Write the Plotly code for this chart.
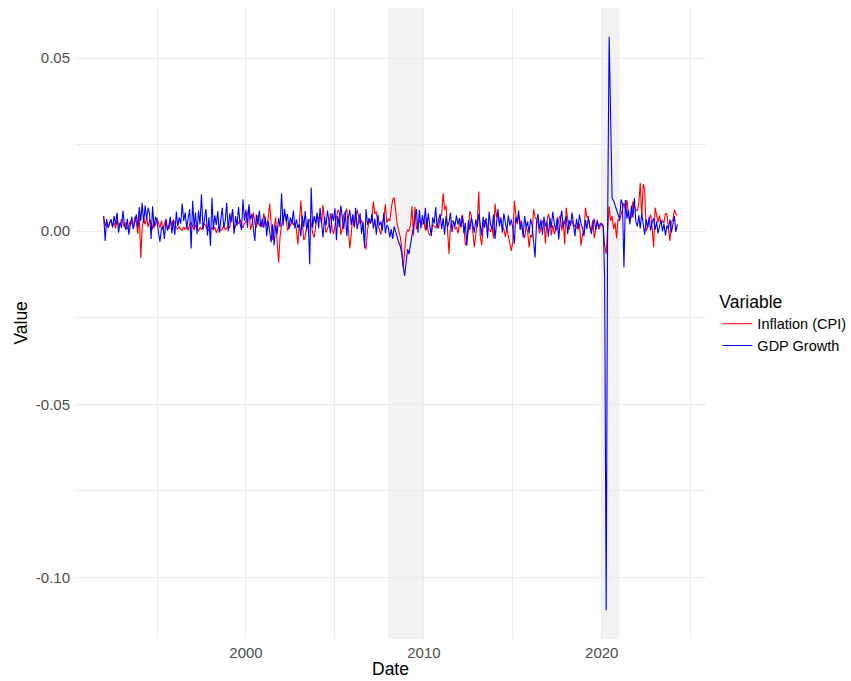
import pandas as pd
import plotly.graph_objects as go

# ---------------- data (monthly, Jan 1992 - Apr 2024) ----------------
start_month = "1992-01-01"

inflation_cpi = [
    0.0042, 0.0015, 0.0028, 0.0010, 0.0022, 0.0030, 0.0016, 0.0024, 0.0008, 0.0032, 0.0018, 0.0020,  # 1992
    0.0035, 0.0020, 0.0012, 0.0026, 0.0006, 0.0015, 0.0030, 0.0022, 0.0010, 0.0042, 0.0026, -0.0008,  # 1993
    0.0048, -0.0078, 0.0010, 0.0035, 0.0020, 0.0040, 0.0012, 0.0034, 0.0026, 0.0005, 0.0028, 0.0016,  # 1994
    0.0038, 0.0024, 0.0010, 0.0030, 0.0004, 0.0020, 0.0036, 0.0012, 0.0006, 0.0028, 0.0018, 0.0034,  # 1995
    0.0022, 0.0010, 0.0006, 0.0014, 0.0005, 0.0003, 0.0012, 0.0004, 0.0016, 0.0002, 0.0020, 0.0026,  # 1996
    0.0015, 0.0003, 0.0018, 0.0008, 0.0000, 0.0012, 0.0006, 0.0010, 0.0022, 0.0014, 0.0005, 0.0002,  # 1997
    0.0008, 0.0010, 0.0004, 0.0012, -0.0005, 0.0006, 0.0016, 0.0002, 0.0005, 0.0018, 0.0004, 0.0009,  # 1998
    0.0015, 0.0010, 0.0030, 0.0058, 0.0002, 0.0015, 0.0028, 0.0022, 0.0034, 0.0018, 0.0010, 0.0024,  # 1999
    0.0026, 0.0050, 0.0070, 0.0004, 0.0018, 0.0055, 0.0024, 0.0010, 0.0046, 0.0016, 0.0020, 0.0012,  # 2000
    0.0052, 0.0030, 0.0014, 0.0038, 0.0080, 0.0020, -0.0025, 0.0006, 0.0040, -0.0030, -0.0090, -0.0015,  # 2001
    0.0020, 0.0035, 0.0050, 0.0048, 0.0002, 0.0010, 0.0016, 0.0030, 0.0018, 0.0026, 0.0005, -0.0038,  # 2002
    0.0040, 0.0088, 0.0026, -0.0025, -0.0016, 0.0012, 0.0018, 0.0034, 0.0025, -0.0006, -0.0018, 0.0016,  # 2003
    0.0045, 0.0036, 0.0044, 0.0022, 0.0076, 0.0030, -0.0004, 0.0008, 0.0020, 0.0052, 0.0010, -0.0008,  # 2004
    0.0018, 0.0046, 0.0062, 0.0054, -0.0010, 0.0006, 0.0048, 0.0052, 0.0065, 0.0010, -0.0050, -0.0010,  # 2005
    0.0048, 0.0010, 0.0042, 0.0062, 0.0045, 0.0020, 0.0032, 0.0018, -0.0038, -0.0052, 0.0004, 0.0030,  # 2006
    0.0022, 0.0040, 0.0086, 0.0050, 0.0056, 0.0018, 0.0006, -0.0010, 0.0026, 0.0032, 0.0078, 0.0024,  # 2007
    0.0035, 0.0030, 0.0064, 0.0092, 0.0097, 0.0060, 0.0020, 0.0002, -0.0015, -0.0045, -0.0105, -0.0060,  # 2008
    -0.0006, 0.0004, 0.0000, 0.0018, 0.0072, -0.0012, 0.0070, 0.0006, 0.0020, 0.0030, 0.0030, 0.0020,  # 2009
    0.0030, 0.0002, 0.0040, -0.0004, -0.0010, -0.0012, 0.0020, 0.0015, 0.0010, 0.0022, 0.0008, 0.0042,  # 2010
    0.0048, 0.0110, 0.0062, 0.0074, -0.0010, -0.0066, 0.0018, 0.0030, 0.0028, 0.0006, 0.0012, -0.0006,  # 2011
    0.0022, 0.0030, 0.0048, 0.0016, -0.0040, -0.0028, 0.0000, 0.0058, 0.0046, -0.0008, -0.0046, -0.0010,  # 2012
    0.0026, 0.0115, -0.0010, -0.0040, 0.0010, 0.0032, 0.0020, 0.0014, 0.0006, -0.0002, 0.0016, -0.0020,  # 2013
    0.0080, 0.0040, 0.0056, 0.0028, 0.0032, 0.0014, 0.0006, -0.0016, 0.0008, -0.0016, -0.0030, -0.0057,  # 2014
    -0.0030, 0.0088, 0.0052, 0.0020, 0.0046, 0.0030, 0.0012, -0.0008, -0.0020, 0.0014, 0.0000, -0.0047,  # 2015
    -0.0010, -0.0018, 0.0064, 0.0042, 0.0030, 0.0024, -0.0006, 0.0010, 0.0028, 0.0032, -0.0035, 0.0028,  # 2016
    0.0050, 0.0032, -0.0012, 0.0018, -0.0008, 0.0004, 0.0006, 0.0034, 0.0046, 0.0002, 0.0030, -0.0038,  # 2017
    0.0068, 0.0036, 0.0004, 0.0026, 0.0030, 0.0014, 0.0018, 0.0010, 0.0006, 0.0022, -0.0042, -0.0010,  # 2018
    0.0000, 0.0068, 0.0040, 0.0044, 0.0010, 0.0004, 0.0032, -0.0020, 0.0016, 0.0034, 0.0005, 0.0016,  # 2019
    0.0024, 0.0010, -0.0040, -0.0066, -0.0010, 0.0073, 0.0030, 0.0044, 0.0006, 0.0025, -0.0020, 0.0035,  # 2020
    0.0030, 0.0050, 0.0070, 0.0082, 0.0064, 0.0090, 0.0048, 0.0028, 0.0042, 0.0086, 0.0074, 0.0060,  # 2021
    0.0060, 0.0080, 0.0140, 0.0040, 0.0136, 0.0120, 0.0000, 0.0010, 0.0036, 0.0048, 0.0010, -0.0046,  # 2022
    0.0068, 0.0048, 0.0025, 0.0046, 0.0022, 0.0030, 0.0024, 0.0052, 0.0048, 0.0010, -0.0028, 0.0028,  # 2023
    0.0032, 0.0062, 0.0050, 0.0046,  # 2024
]

gdp_growth = [
    0.0044, -0.0028, 0.0035, 0.0010, 0.0025, 0.0035, 0.0010, 0.0044, 0.0020, 0.0054, -0.0004, 0.0025,  # 1992
    0.0010, 0.0059, 0.0020, 0.0004, 0.0036, -0.0010, 0.0018, 0.0042, 0.0006, 0.0028, 0.0048, 0.0012,  # 1993
    0.0070, 0.0030, 0.0082, 0.0024, 0.0074, 0.0034, 0.0068, 0.0050, -0.0022, 0.0072, 0.0010, 0.0042,  # 1994
    0.0028, -0.0005, -0.0030, 0.0008, 0.0015, -0.0022, 0.0034, 0.0002, 0.0018, 0.0042, -0.0006, 0.0030,  # 1995
    -0.0010, 0.0056, 0.0014, 0.0040, 0.0022, 0.0080, 0.0030, 0.0054, 0.0008, 0.0038, 0.0064, -0.0050,  # 1996
    0.0088, 0.0010, 0.0054, -0.0008, 0.0060, 0.0020, 0.0107, 0.0004, 0.0032, 0.0064, -0.0012, 0.0040,  # 1997
    -0.0042, 0.0097, 0.0006, 0.0046, 0.0018, 0.0058, -0.0004, 0.0036, 0.0068, 0.0010, 0.0030, 0.0082,  # 1998
    0.0000, 0.0052, 0.0026, 0.0064, -0.0008, 0.0044, 0.0016, 0.0070, 0.0022, 0.0004, 0.0092, 0.0030,  # 1999
    0.0062, 0.0010, 0.0078, 0.0034, 0.0050, 0.0006, -0.0028, 0.0048, 0.0020, 0.0060, 0.0012, 0.0036,  # 2000
    0.0010, 0.0042, -0.0014, 0.0030, 0.0002, -0.0032, 0.0020, -0.0040, 0.0016, -0.0008, 0.0038, 0.0012,  # 2001
    0.0110, 0.0016, 0.0064, 0.0028, 0.0050, 0.0006, 0.0040, 0.0022, 0.0060, 0.0008, 0.0034, 0.0010,  # 2002
    0.0020, -0.0014, 0.0046, 0.0012, 0.0058, 0.0002, 0.0036, -0.0095, 0.0126, 0.0010, 0.0044, 0.0022,  # 2003
    0.0054, 0.0008, 0.0068, 0.0032, -0.0018, 0.0042, 0.0016, 0.0060, 0.0024, -0.0006, 0.0052, 0.0030,  # 2004
    0.0066, -0.0026, 0.0044, 0.0012, 0.0074, 0.0028, 0.0006, 0.0058, -0.0014, 0.0036, 0.0062, 0.0018,  # 2005
    0.0048, 0.0014, 0.0068, 0.0006, 0.0032, 0.0052, -0.0008, 0.0026, -0.0047, 0.0064, 0.0018, 0.0038,  # 2006
    0.0024, 0.0050, 0.0008, 0.0036, -0.0010, 0.0048, 0.0016, 0.0028, 0.0002, 0.0054, -0.0006, 0.0018,  # 2007
    0.0012, -0.0018, 0.0006, -0.0022, 0.0014, -0.0004, -0.0016, -0.0032, -0.0042, -0.0062, -0.0100, -0.0129,  # 2008
    -0.0090, -0.0052, -0.0066, -0.0033, -0.0012, 0.0010, 0.0035, 0.0064, -0.0004, 0.0062, 0.0008, 0.0046,  # 2009
    0.0020, 0.0068, 0.0004, 0.0052, 0.0016, -0.0012, 0.0040, 0.0022, 0.0070, 0.0008, 0.0036, 0.0050,  # 2010
    0.0006, 0.0038, -0.0010, 0.0044, 0.0012, 0.0026, 0.0054, -0.0002, 0.0030, 0.0014, 0.0046, 0.0020,  # 2011
    0.0038, 0.0010, 0.0044, -0.0006, 0.0024, -0.0042, 0.0032, 0.0004, 0.0040, 0.0018, -0.0004, 0.0034,  # 2012
    0.0012, 0.0050, 0.0026, -0.0012, 0.0042, 0.0010, 0.0038, -0.0020, 0.0056, 0.0020, 0.0004, 0.0048,  # 2013
    -0.0022, 0.0030, 0.0064, 0.0014, 0.0040, -0.0004, 0.0052, 0.0024, 0.0002, 0.0046, 0.0016, 0.0034,  # 2014
    0.0008, -0.0036, 0.0040, 0.0026, 0.0060, 0.0004, 0.0030, -0.0018, 0.0044, 0.0012, 0.0028, -0.0006,  # 2015
    0.0036, 0.0018, -0.0024, -0.0076, 0.0022, 0.0050, 0.0006, 0.0034, -0.0010, 0.0042, 0.0014, 0.0028,  # 2016
    -0.0016, 0.0038, 0.0010, 0.0056, 0.0024, 0.0000, 0.0040, -0.0024, 0.0030, 0.0060, 0.0012, 0.0026,  # 2017
    0.0044, -0.0008, 0.0032, 0.0016, 0.0054, 0.0020, -0.0014, 0.0036, 0.0008, 0.0048, 0.0022, 0.0010,  # 2018
    -0.0014, 0.0032, 0.0006, 0.0040, 0.0020, -0.0008, 0.0016, 0.0036, 0.0004, 0.0028, 0.0012, 0.0022,  # 2019
    0.0020, 0.0016, -0.0140, -0.1095, 0.0020, 0.0562, 0.0330, 0.0095, 0.0088, 0.0075, 0.0060, 0.0042,  # 2020
    0.0035, 0.0092, 0.0080, -0.0104, 0.0090, 0.0036, 0.0062, 0.0020, 0.0074, 0.0040, 0.0096, 0.0028,  # 2021
    0.0014, 0.0046, 0.0008, 0.0052, 0.0020, -0.0010, 0.0034, 0.0012, 0.0040, 0.0002, 0.0026, 0.0038,  # 2022
    0.0004, 0.0028, -0.0006, 0.0018, 0.0032, 0.0000, 0.0022, -0.0012, 0.0016, 0.0008, 0.0034, -0.0004,  # 2023
    0.0018, 0.0044, -0.0002, 0.0020,  # 2024
]

series_names = ["Inflation (CPI)", "GDP Growth"]
series_colors = ["#ff0000", "#0000ff"]

shade_starts = ["2008-01-01", "2020-01-01"]
shade_ends = ["2010-01-01", "2021-01-01"]

x_major_ticks = ["2000-01-01", "2010-01-01", "2020-01-01"]
x_major_labels = ["2000", "2010", "2020"]
x_minor_ticks = ["1995-01-01", "2005-01-01", "2015-01-01", "2025-01-01"]
y_major_ticks = [-0.10, -0.05, 0.00, 0.05]
y_major_labels = ["-0.10", "-0.05", "0.00", "0.05"]
y_minor_ticks = [-0.075, -0.025, 0.025]

# ---------------- figure ----------------
dates = pd.date_range(start_month, periods=len(inflation_cpi), freq="MS")

FONT = "Liberation Sans, Arial, Helvetica, sans-serif"
GRID = "#ebebeb"
TICK_FONT = dict(family=FONT, size=15, color="#4d4d4d")

fig = go.Figure()
for name, vals, col in zip(series_names, [inflation_cpi, gdp_growth], series_colors):
    fig.add_trace(go.Scatter(x=dates, y=vals, mode="lines", name=name,
                             line=dict(color=col, width=1.1)))

for s, e in zip(shade_starts, shade_ends):
    fig.add_shape(type="rect", xref="x", yref="paper", x0=s, x1=e, y0=0, y1=1,
                  fillcolor="rgba(190,190,190,0.2)", line=dict(width=0), layer="below")

# ggplot-like 5% expansion
span = dates[-1] - dates[0]
x_range = [dates[0] - 0.05 * span, dates[-1] + 0.05 * span]
all_vals = inflation_cpi + gdp_growth
ymin, ymax = min(all_vals), max(all_vals)
yspan = ymax - ymin
y_range = [ymin - 0.05 * yspan, ymax + 0.05 * yspan]

fig.update_xaxes(range=x_range, tickmode="array", tickvals=x_major_ticks, ticktext=x_major_labels,
                 showgrid=True, gridcolor=GRID, gridwidth=1.1, zeroline=False, showline=False,
                 ticks="", tickfont=TICK_FONT, ticklabelstandoff=3,
                 minor=dict(tickmode="array", tickvals=x_minor_ticks, showgrid=True,
                            gridcolor=GRID, gridwidth=0.55, ticks=""))
fig.update_yaxes(range=y_range, tickmode="array", tickvals=y_major_ticks, ticktext=y_major_labels,
                 showgrid=True, gridcolor=GRID, gridwidth=1.1, zeroline=False, showline=False,
                 ticks="", tickfont=TICK_FONT, ticklabelstandoff=4,
                 minor=dict(tickmode="array", tickvals=y_minor_ticks, showgrid=True,
                            gridcolor=GRID, gridwidth=0.55, ticks=""))

fig.update_layout(
    width=851, height=681,
    margin=dict(l=75, r=145, t=8, b=42, autoexpand=False),
    paper_bgcolor="white", plot_bgcolor="white",
    font=dict(family=FONT, color="black"),
    showlegend=True,
    legend=dict(x=1.018, y=0.5, xanchor="left", yanchor="middle",
                title=dict(text="Variable", font=dict(family=FONT, size=17.5, color="black")),
                font=dict(family=FONT, size=14.5, color="black"),
                bgcolor="rgba(0,0,0,0)", tracegroupgap=0, itemwidth=30),
    annotations=[
        dict(text="Date", xref="paper", yref="paper", x=0.5, y=-0.0475,
             xanchor="center", yanchor="middle", showarrow=False,
             font=dict(family=FONT, size=17.5, color="black")),
        dict(text="Value", xref="paper", yref="paper", x=-0.087, y=0.5,
             xanchor="center", yanchor="middle", textangle=-90, showarrow=False,
             font=dict(family=FONT, size=17.5, color="black")),
    ],
)

fig.write_html("out.html")
